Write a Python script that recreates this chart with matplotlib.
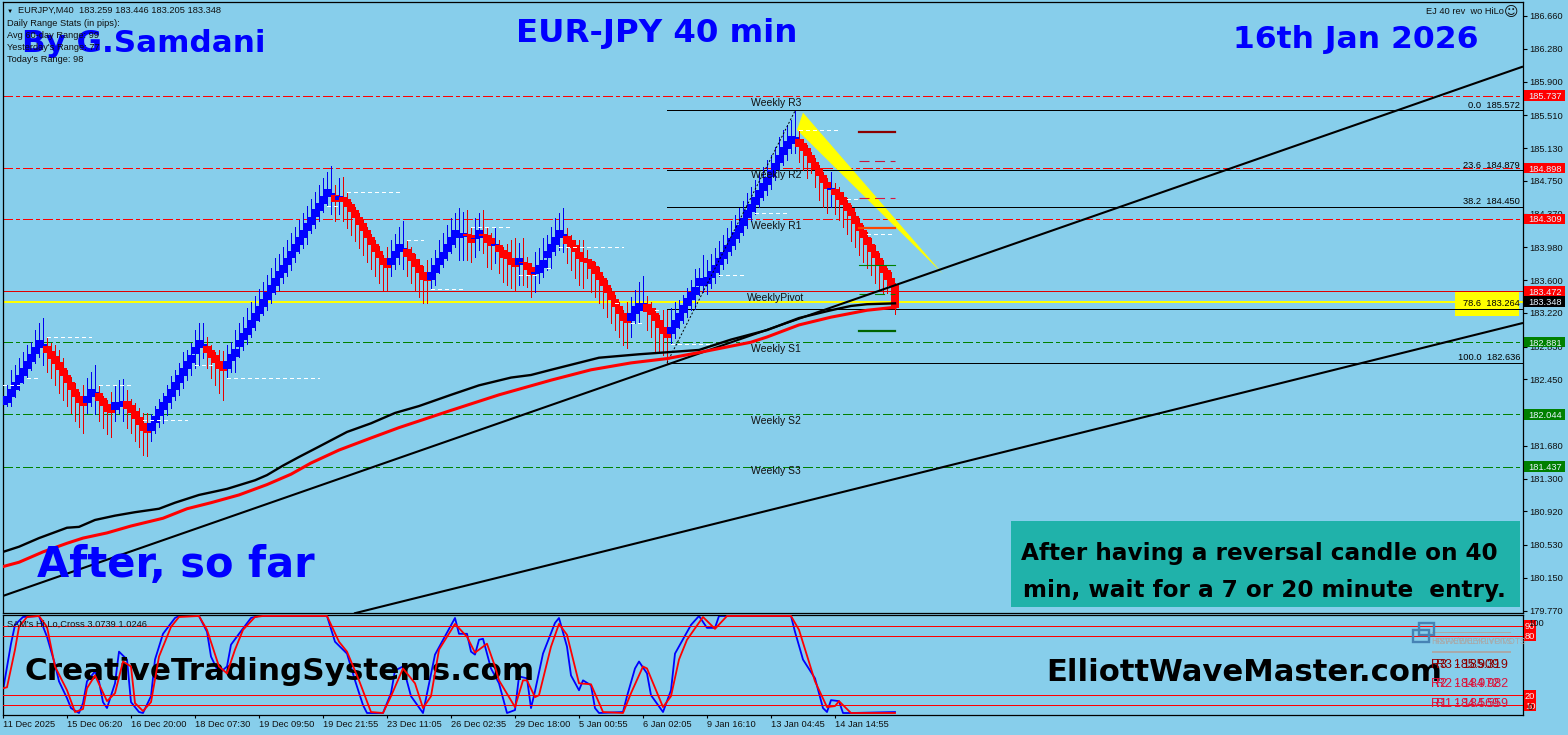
import matplotlib
matplotlib.use("Agg")
from matplotlib import pyplot as plt
from matplotlib.patches import Rectangle

plt.rcParams["font.family"] = ["Liberation Sans", "DejaVu Sans"]

# Heiken-Ashi style candles
body_top = [
    182.19, 182.26, 182.34, 182.42, 182.50, 182.58, 182.66, 182.74, 182.83, 182.91,
    182.86, 182.84, 182.78, 182.72, 182.65, 182.58, 182.50, 182.42, 182.34, 182.26,
    182.19, 182.26, 182.34, 182.30, 182.29, 182.23, 182.16, 182.09, 182.19, 182.19,
    182.20, 182.20, 182.15, 182.08, 182.01, 181.94, 181.86, 181.94, 182.03, 182.11,
    182.19, 182.26, 182.34, 182.42, 182.50, 182.58, 182.66, 182.73, 182.83, 182.91,
    182.86, 182.84, 182.79, 182.73, 182.66, 182.58, 182.66, 182.74, 182.80, 182.91,
    182.99, 183.05, 183.14, 183.22, 183.30, 183.38, 183.46, 183.54, 183.62, 183.71,
    183.77, 183.86, 183.94, 184.02, 184.10, 184.18, 184.26, 184.33, 184.42, 184.49,
    184.57, 184.65, 184.61, 184.59, 184.57, 184.56, 184.54, 184.48, 184.41, 184.33,
    184.26, 184.18, 184.10, 184.02, 183.94, 183.86, 183.77, 183.86, 183.94, 184.02,
    183.97, 183.96, 183.91, 183.84, 183.77, 183.69, 183.62, 183.69, 183.77, 183.86,
    183.93, 184.02, 184.10, 184.18, 184.15, 184.15, 184.13, 184.12, 184.09, 184.18,
    184.13, 184.12, 184.09, 184.02, 184.01, 183.95, 183.93, 183.86, 183.77, 183.86,
    183.81, 183.80, 183.75, 183.69, 183.77, 183.83, 183.94, 184.02, 184.10, 184.18,
    184.13, 184.11, 184.06, 184.01, 183.93, 183.86, 183.84, 183.82, 183.76, 183.69,
    183.62, 183.54, 183.46, 183.38, 183.30, 183.22, 183.14, 183.22, 183.30, 183.33,
    183.33, 183.32, 183.28, 183.22, 183.14, 183.06, 182.99, 183.06, 183.14, 183.22,
    183.31, 183.39, 183.46, 183.52, 183.62, 183.62, 183.64, 183.71, 183.77, 183.86,
    183.93, 184.01, 184.09, 184.16, 184.24, 184.32, 184.41, 184.48, 184.56, 184.64,
    184.72, 184.79, 184.88, 184.96, 185.05, 185.14, 185.21, 185.27, 185.26, 185.23,
    185.19, 185.13, 185.05, 184.97, 184.90, 184.82, 184.74, 184.67, 184.66, 184.62,
    184.56, 184.49, 184.43, 184.34, 184.26, 184.18, 184.10, 184.02, 183.94, 183.86,
    183.77, 183.72, 183.62, 183.54,
]
body_bot = [
    182.15, 182.17, 182.25, 182.33, 182.41, 182.49, 182.57, 182.65, 182.74, 182.82,
    182.81, 182.75, 182.69, 182.63, 182.56, 182.49, 182.41, 182.33, 182.25, 182.17,
    182.14, 182.17, 182.25, 182.27, 182.20, 182.14, 182.07, 182.06, 182.10, 182.13,
    182.19, 182.11, 182.06, 181.99, 181.92, 181.85, 181.83, 181.85, 181.94, 182.02,
    182.10, 182.17, 182.25, 182.33, 182.41, 182.49, 182.57, 182.64, 182.74, 182.82,
    182.81, 182.75, 182.70, 182.64, 182.57, 182.55, 182.57, 182.66, 182.71, 182.82,
    182.90, 182.96, 183.05, 183.13, 183.21, 183.29, 183.37, 183.45, 183.53, 183.62,
    183.68, 183.77, 183.85, 183.93, 184.01, 184.09, 184.17, 184.24, 184.33, 184.40,
    184.48, 184.56, 184.56, 184.50, 184.53, 184.50, 184.45, 184.39, 184.32, 184.24,
    184.17, 184.09, 184.01, 183.93, 183.85, 183.77, 183.74, 183.77, 183.85, 183.93,
    183.94, 183.87, 183.82, 183.75, 183.68, 183.60, 183.59, 183.60, 183.68, 183.77,
    183.84, 183.93, 184.01, 184.09, 184.09, 184.10, 184.11, 184.03, 184.07, 184.09,
    184.11, 184.03, 184.00, 184.00, 183.93, 183.86, 183.84, 183.77, 183.75, 183.77,
    183.80, 183.72, 183.66, 183.67, 183.68, 183.74, 183.85, 183.93, 184.01, 184.09,
    184.09, 184.02, 183.97, 183.92, 183.84, 183.81, 183.80, 183.73, 183.67, 183.60,
    183.53, 183.45, 183.37, 183.29, 183.21, 183.13, 183.10, 183.13, 183.21, 183.24,
    183.31, 183.23, 183.19, 183.13, 183.05, 182.97, 182.93, 182.97, 183.05, 183.13,
    183.22, 183.30, 183.37, 183.43, 183.53, 183.53, 183.55, 183.62, 183.68, 183.77,
    183.84, 183.92, 184.00, 184.07, 184.15, 184.23, 184.32, 184.39, 184.47, 184.55,
    184.63, 184.70, 184.79, 184.87, 184.96, 185.05, 185.12, 185.18, 185.21, 185.14,
    185.10, 185.04, 184.96, 184.88, 184.81, 184.73, 184.65, 184.64, 184.59, 184.53,
    184.47, 184.40, 184.34, 184.25, 184.17, 184.09, 184.01, 183.93, 183.85, 183.77,
    183.68, 183.60, 183.53, 183.28,
]
wick_high = [
    182.26, 182.38, 182.56, 182.62, 182.70, 182.77, 182.85, 182.88, 183.02, 183.10,
    183.16, 182.93, 182.87, 182.85, 182.79, 182.70, 182.56, 182.48, 182.41, 182.30,
    182.38, 182.47, 182.53, 182.62, 182.37, 182.26, 182.21, 182.30, 182.38, 182.44,
    182.45, 182.33, 182.22, 182.17, 182.12, 182.06, 182.06, 182.05, 182.14, 182.22,
    182.29, 182.38, 182.49, 182.56, 182.64, 182.77, 182.79, 182.87, 183.02, 183.10,
    183.10, 182.94, 182.85, 182.77, 182.79, 182.78, 182.85, 182.88, 183.02, 183.10,
    183.17, 183.28, 183.35, 183.42, 183.50, 183.58, 183.66, 183.74, 183.85, 183.90,
    183.98, 184.06, 184.15, 184.22, 184.30, 184.38, 184.46, 184.54, 184.62, 184.70,
    184.78, 184.85, 184.92, 184.70, 184.78, 184.79, 184.61, 184.50, 184.45, 184.38,
    184.30, 184.22, 184.13, 184.06, 184.00, 183.89, 183.98, 184.06, 184.13, 184.22,
    184.28, 184.05, 183.98, 183.90, 183.84, 183.76, 183.83, 183.86, 183.95, 184.06,
    184.15, 184.24, 184.32, 184.38, 184.44, 184.39, 184.41, 184.20, 184.32, 184.38,
    184.41, 184.20, 184.15, 184.22, 184.06, 183.98, 184.02, 184.06, 184.09, 184.03,
    184.09, 183.87, 183.80, 183.93, 183.97, 184.09, 184.12, 184.22, 184.32, 184.38,
    184.43, 184.20, 184.12, 184.06, 184.06, 184.06, 183.95, 183.84, 183.81, 183.75,
    183.65, 183.60, 183.51, 183.43, 183.35, 183.25, 183.35, 183.40, 183.49, 183.58,
    183.65, 183.42, 183.35, 183.28, 183.20, 183.25, 183.25, 183.28, 183.35, 183.37,
    183.43, 183.51, 183.60, 183.73, 183.74, 183.89, 183.83, 183.90, 183.97, 184.05,
    184.12, 184.20, 184.28, 184.35, 184.43, 184.52, 184.61, 184.68, 184.76, 184.84,
    184.91, 184.99, 185.05, 185.14, 185.26, 185.34, 185.40, 185.45, 185.56, 185.34,
    185.23, 185.17, 185.08, 185.01, 184.93, 184.85, 184.78, 184.85, 184.73, 184.68,
    184.62, 184.55, 184.47, 184.39, 184.32, 184.24, 184.16, 184.09, 184.01, 183.91,
    183.83, 183.74, 183.69, 183.57,
]
wick_low = [
    181.98, 182.14, 182.14, 182.25, 182.33, 182.41, 182.48, 182.56, 182.64, 182.71,
    182.62, 182.54, 182.47, 182.38, 182.29, 182.21, 182.14, 182.06, 181.97, 181.90,
    181.83, 182.06, 182.14, 182.05, 181.97, 181.89, 181.82, 181.78, 181.97, 182.06,
    181.97, 181.89, 181.83, 181.73, 181.66, 181.57, 181.56, 181.74, 181.83, 181.90,
    181.94, 182.04, 182.12, 182.21, 182.27, 182.35, 182.44, 182.50, 182.58, 182.62,
    182.70, 182.58, 182.47, 182.38, 182.29, 182.21, 182.47, 182.53, 182.53, 182.71,
    182.79, 182.86, 182.94, 183.02, 183.12, 183.20, 183.25, 183.33, 183.44, 183.49,
    183.57, 183.65, 183.72, 183.81, 183.91, 183.97, 184.02, 184.14, 184.20, 184.28,
    184.39, 184.47, 184.37, 184.28, 184.37, 184.28, 184.20, 184.12, 184.05, 183.97,
    183.89, 183.81, 183.73, 183.65, 183.57, 183.49, 183.47, 183.65, 183.73, 183.79,
    183.73, 183.65, 183.57, 183.49, 183.40, 183.33, 183.33, 183.50, 183.54, 183.68,
    183.75, 183.83, 183.91, 183.98, 183.83, 183.83, 183.83, 183.81, 183.87, 183.95,
    183.91, 183.75, 183.73, 183.80, 183.68, 183.58, 183.54, 183.51, 183.47, 183.54,
    183.54, 183.52, 183.40, 183.46, 183.57, 183.64, 183.72, 183.74, 183.89, 183.95,
    183.93, 183.80, 183.72, 183.62, 183.54, 183.51, 183.62, 183.46, 183.40, 183.33,
    183.28, 183.17, 183.10, 183.02, 182.94, 182.85, 182.81, 182.94, 183.10, 183.10,
    183.25, 183.02, 182.94, 182.77, 182.77, 182.73, 182.64, 182.87, 182.93, 183.04,
    183.10, 183.17, 183.25, 183.26, 183.43, 183.46, 183.44, 183.51, 183.57, 183.65,
    183.73, 183.80, 183.89, 183.96, 184.04, 184.12, 184.20, 184.28, 184.37, 184.45,
    184.53, 184.59, 184.65, 184.76, 184.88, 184.93, 184.99, 185.07, 185.07, 184.97,
    184.88, 184.78, 184.84, 184.68, 184.53, 184.45, 184.38, 184.45, 184.37, 184.30,
    184.22, 184.13, 184.05, 183.98, 183.89, 183.81, 183.74, 183.66, 183.57, 183.49,
    183.45, 183.45, 183.46, 183.21,
]
candle_runs = [
    ("B", 11), ("R", 10), ("B", 3), ("R", 4), ("B", 3), ("R", 6), ("B", 14), ("R", 5),
    ("B", 27), ("R", 1), ("B", 1), ("R", 12), ("B", 4), ("R", 6), ("B", 9), ("R", 2),
    ("B", 2), ("R", 3), ("B", 1), ("R", 5), ("B", 1), ("R", 3), ("B", 8), ("R", 16),
    ("B", 4), ("R", 6), ("B", 32), ("R", 8), ("B", 1), ("R", 16),
]

# moving averages: bar number, price
black_ma_x = [0, 4, 9, 16, 19, 23, 28, 33, 39, 43, 49, 56, 63, 66, 70, 74, 79, 86, 92, 98,
              104, 112, 119, 127, 132, 137, 149, 159, 174, 182, 191, 199, 207, 212, 216, 223]
black_ma_y = [180.45, 180.51, 180.61, 180.73, 180.74, 180.82, 180.87, 180.91, 180.95, 181.02,
              181.11, 181.18, 181.28, 181.34, 181.45, 181.55, 181.67, 181.84, 181.94, 182.06,
              182.14, 182.27, 182.38, 182.47, 182.50, 182.56, 182.70, 182.74, 182.79, 182.91,
              183.02, 183.16, 183.25, 183.30, 183.32, 183.33]
red_ma_x = [0, 4, 10, 16, 20, 26, 32, 40, 46, 52, 59, 66, 72, 77, 84, 92, 99, 112, 124, 137,
            147, 157, 166, 174, 187, 191, 199, 207, 216, 222, 223]
red_ma_y = [180.28, 180.33, 180.45, 180.55, 180.61, 180.67, 180.75, 180.84, 180.95, 181.02,
            181.11, 181.23, 181.35, 181.48, 181.63, 181.77, 181.89, 182.09, 182.27, 182.44,
            182.56, 182.64, 182.69, 182.76, 182.88, 182.94, 183.08, 183.17, 183.25, 183.28, 183.28]

# long trend lines
upper_trend_x = [0, 379.75]
upper_trend_y = [179.94, 186.07]
lower_trend_x = [88, 379.75]
lower_trend_y = [179.74, 183.10]
dotted_trend_x = [166, 198]
dotted_trend_y = [182.64, 185.56]

red_levels = [185.737, 184.898, 184.309]
green_levels = [182.881, 182.044, 181.437]
pivot_level = 183.472
bid_level = 183.348

fib_levels = [185.572, 184.879, 184.450, 183.264, 182.636]
fib_labels = ["0.0", "23.6", "38.2", "78.6", "100.0"]
fib_text_y = [105, 165, 202, 303.5, 358]

weekly_names = ["Weekly R3", "Weekly R2", "Weekly R1", "WeeklyPivot", "Weekly S1", "Weekly S2", "Weekly S3"]
weekly_text_y = [103, 175, 226, 298, 349, 421, 471]

price_ticks = [186.66, 186.28, 185.90, 185.51, 185.13, 184.75, 184.37, 183.98, 183.60, 183.22,
               182.83, 182.45, 182.07, 181.68, 181.30, 180.92, 180.53, 180.15, 179.77]

# white dashed high/low markers
dash_start = [11, 0, 6, 24, 35, 48, 56, 86, 81, 101, 107, 117, 129, 136, 139, 153, 157, 163, 167, 179, 188, 199, 211, 216]
dash_end = [22, 4, 9, 32, 46, 53, 79, 99, 84, 105, 115, 127, 134, 137, 155, 154, 160, 164, 177, 186, 196, 209, 214, 223]
dash_price = [182.94, 182.38, 182.46, 182.38, 181.98, 182.62, 182.46, 184.62, 184.46, 184.06, 183.50, 184.22,
              183.66, 183.74, 183.98, 183.33, 183.10, 183.25, 182.86, 183.66, 184.38, 185.34, 184.54, 184.13]

wedge_x = [200, 235, 198.5]
wedge_y = [185.54, 183.67, 185.34]

# short daily pivot marks near the last candle
mark_price = [185.32, 184.98, 184.55, 184.20, 183.77, 183.44, 183.01]
mark_color = ["#8B0000", "#C8143C", "#DC143C", "#FF4500", "#008000", "#008000", "#006400"]
mark_width = [1.6, 0.8, 0.8, 1.6, 0.8, 0.8, 1.6]
mark_dashed = [False, True, True, False, False, True, False]

# oscillator
osc_blue_x = [0, 2, 3, 5, 9, 11, 13, 14, 16, 17, 19, 20, 21, 23, 24, 25, 26, 28, 29, 31, 32, 34, 35, 37, 38,
              40, 43, 44, 49, 51, 52, 54, 56, 57, 59, 62, 64, 81, 83, 86, 88, 90, 91, 95, 97, 98, 100, 102,
              105, 108, 113, 114, 116, 117, 118, 119, 120, 122, 124, 126, 128, 129, 131, 132, 133, 135, 138,
              139, 141, 142, 144, 145, 147, 148, 149, 155, 156, 158, 159, 161, 162, 165, 167, 168, 172, 174,
              176, 178, 179, 197, 198, 200, 203, 205, 206, 207, 209, 210, 212, 223]
osc_blue_y = [25, 72, 91, 99, 100, 79, 51, 34, 17, 7, 2, 12, 34, 44, 34, 13, 7, 32, 64, 56, 13, 3, 2, 19, 56,
              82, 98, 100, 100, 84, 59, 42, 49, 71, 82, 98, 100, 100, 74, 62, 35, 10, 2, 2, 22, 45, 49, 19,
              2, 61, 98, 82, 82, 64, 61, 76, 77, 47, 32, 2, 5, 39, 37, 7, 24, 62, 93,
              98, 69, 40, 25, 35, 30, 7, 2, 3, 19, 47, 54, 42, 20, 3, 25, 62, 91, 100,
              88, 88, 100, 100, 84, 56, 37, 7, 3, 15, 14, 2, 2, 3]
osc_red_x = [0, 1, 3, 4, 6, 9, 11, 13, 16, 18, 20, 21, 23, 26, 28, 30, 32, 33, 35, 37, 39, 42, 44, 49, 51, 54,
             56, 58, 60, 63, 65, 81, 84, 86, 89, 92, 95, 97, 100, 103, 105, 107, 109, 113, 116, 118, 121, 123,
             124, 128, 130, 131, 133, 134, 137, 139, 141, 144, 147, 150, 155, 157, 160, 161, 165, 167, 169,
             171, 175, 178, 181, 197, 199, 202, 203, 206, 208, 209, 212, 223]
osc_red_y = [27, 28, 66, 89, 99, 100, 89, 49, 25, 3, 6, 27, 40, 14, 22, 54, 49, 12, 4, 13, 59, 89, 99, 100, 86, 49,
             42, 66, 86, 99, 100, 100, 74, 64, 35, 3, 2, 19, 47, 32, 7, 19, 66, 92, 79, 63, 72, 49,
             35, 8, 35, 35, 18, 20, 69, 92, 81, 32, 31, 3, 2, 22, 49, 47, 8, 19, 56,
             76, 99, 87, 100, 100, 86, 47, 34, 8, 9, 14, 2, 2]
osc_levels = [90, 80, 20, 10]
date_tick_x = [0, 16, 32, 48, 64, 80, 96, 112, 128, 144, 160, 176, 192, 208]
date_labels = ["11 Dec 2025", "15 Dec 06:20", "16 Dec 20:00", "18 Dec 07:30", "19 Dec 09:50", "19 Dec 21:55",
               "23 Dec 11:05", "26 Dec 02:35", "29 Dec 18:00", "5 Jan 00:55", "6 Jan 02:05", "9 Jan 16:10",
               "13 Jan 04:45", "14 Jan 14:55"]

W, H = 1568, 735
BG = "#87CEEB"
SMALL = 6.7
PX = 0.72  # one pixel line


def txt(x, y, s, **kw):
    kw.setdefault("fontsize", SMALL)
    kw.setdefault("color", "#101010")
    kw.setdefault("zorder", 9)
    return fig.text(x / W, 1 - y / H, s, **kw)


def box(x0, y0, x1, y1, **kw):
    fig.add_artist(Rectangle((x0 / W, 1 - y1 / H), (x1 - x0) / W, (y1 - y0) / H, transform=fig.transFigure, **kw))


fig = plt.figure(figsize=(W / 100, H / 100), dpi=100, facecolor=BG)
ax = fig.add_axes([2.5 / W, 1 - 613 / H, 1520 / W, 611 / H], facecolor=BG)
osc = fig.add_axes([2.5 / W, 1 - 714.5 / H, 1520 / W, 99.5 / H], facecolor=BG)

for a in (ax, osc):
    a.set_xlim(-0.125, 379.875)
    for s in a.spines.values():
        s.set_linewidth(0.9)
ax.set_ylim(179.742, 186.822)
osc.set_ylim(0.5, 101)

# yellow box behind the 78.6 fib label, sits under all the lines
ax.add_patch(Rectangle((1455 / W, 1 - 316 / H), 64 / W, 24 / H, transform=fig.transFigure, color="#FFFF00", lw=0, zorder=0.5))

# horizontal levels, under the candles
dash_dot = (0, (10, 3, 3, 3))
for lv in red_levels:
    ax.axhline(lv, color="#FF0000", lw=PX, ls=dash_dot, antialiased=False, zorder=1)
for lv in green_levels:
    ax.axhline(lv, color="#008000", lw=PX, ls=dash_dot, antialiased=False, zorder=1)
ax.axhline(pivot_level, color="#E00000", lw=PX, antialiased=False, zorder=1)
ax.axhline(bid_level, color="#FFFF00", lw=2 * PX, antialiased=False, zorder=1)
ax.fill(wedge_x, wedge_y, color="#FFFF00", lw=0, zorder=1.5)

# fib lines start at the swing low
for lv in fib_levels:
    ax.hlines(lv, 166, 379.875, color="black", lw=PX, antialiased=False, zorder=1.6)

# candles
candle_colors = []
for name, count in candle_runs:
    candle_colors += ["#0000FF" if name == "B" else "#FF0000"] * count
xs = list(range(len(body_top)))
wick_colors = ["#0000F0" if c == "#0000FF" else "#E60000" for c in candle_colors]
ax.vlines(xs, wick_low, wick_high, colors=wick_colors, lw=PX, antialiased=False, zorder=2)
heights = [t - b for t, b in zip(body_top, body_bot)]
ax.bar(xs, heights, width=2.0, bottom=body_bot, color=candle_colors, lw=0, antialiased=False, zorder=3)

for s, e, p in zip(dash_start, dash_end, dash_price):
    ax.plot([s, e], [p, p], color="white", lw=PX, ls=(0, (4, 3)), antialiased=False, zorder=3.5)

for p, c, w, d in zip(mark_price, mark_color, mark_width, mark_dashed):
    ax.plot([214, 223], [p, p], color=c, lw=w, ls=(0, (9, 5)) if d else "-", zorder=3.5)

ax.plot(dotted_trend_x, dotted_trend_y, color="black", lw=0.7, ls=(0, (2, 2)), zorder=4)
ax.plot(upper_trend_x, upper_trend_y, color="black", lw=1.5, zorder=4)
ax.plot(lower_trend_x, lower_trend_y, color="black", lw=1.5, zorder=4)
ax.plot(black_ma_x, black_ma_y, color="black", lw=1.7, zorder=4)
ax.plot(red_ma_x, red_ma_y, color="#FF0000", lw=2.2, zorder=4.5)

# price axis
ax.set_xticks([])
ax.yaxis.tick_right()
ax.set_yticks(price_ticks)
ax.set_yticklabels(["%.3f" % p for p in price_ticks], fontsize=SMALL, color="#101010")
ax.tick_params(axis="y", length=3, width=0.8, pad=2)

label_tf = ax.get_yaxis_transform()
for levels, colour in [(red_levels + [pivot_level], "#FF0000"), ([bid_level], "black"), (green_levels, "#008000")]:
    for lv in levels:
        ax.add_patch(Rectangle((1.0012, lv - 0.062), 0.027, 0.124, transform=label_tf, color=colour, lw=0, clip_on=False, zorder=6))
        ax.text(1.0147, lv, "%.3f" % lv, transform=label_tf, color="#E8F4FF", fontsize=SMALL, ha="center", va="center_baseline", clip_on=False, zorder=7)

# oscillator panel, the site names sit between the blue and the red lines
FS = dict(fontfamily="DejaVu Sans", fontweight="bold", va="baseline", color="black", transform=fig.transFigure, clip_on=False, zorder=3)
osc.plot(osc_blue_x, osc_blue_y, color="#0000FF", lw=1.3, zorder=2)
osc.text(25 / W, 1 - 680.5 / H, "CreativeTradingSystems.com", fontsize=22.3, **FS)
osc.text(1046 / W, 1 - 681 / H, "ElliottWaveMaster.com", fontsize=22.1, **FS)
osc.plot(osc_red_x, osc_red_y, color="#FF0000", lw=1.3, zorder=5)
for lv in osc_levels:
    osc.axhline(lv, color="#FF0000", lw=PX, antialiased=False, zorder=4)
osc.set_yticks([])
osc.set_xticks(date_tick_x)
osc.set_xticklabels(date_labels, fontsize=SMALL, color="#101010", ha="left")
osc.tick_params(axis="x", length=2, width=0.8, pad=2)

osc_tf = osc.get_yaxis_transform()
for lv in osc_levels:
    osc.add_patch(Rectangle((1.0012, lv - 5.5), 0.0075, 11, transform=osc_tf, color="#FF0000", lw=0, clip_on=False, zorder=6))
    osc.text(1.005, lv, str(lv), transform=osc_tf, color="#F0F0F0", fontsize=SMALL, ha="center", va="center_baseline", clip_on=False, zorder=7)
txt(1528, 623, "100", va="center", ha="left")
txt(1528, 708, "0", va="center", ha="left")

# small texts on the main chart
txt(18, 10.5, "EURJPY,M40  183.259 183.446 183.205 183.348", va="center")
txt(9.5, 11, "▼", va="center", ha="center", fontsize=4.5, color="black")
for y, s in zip([24, 36, 48, 60], ["Daily Range Stats (in pips):", "Avg 60-day Range: 99", "Yesterday's Range: 77", "Today's Range: 98"]):
    txt(7, y, s, va="center")
txt(1504, 11.5, "EJ 40 rev  wo HiLo", va="center", ha="right")
txt(1511, 12, "☺", va="center", ha="center", fontsize=10, family=["DejaVu Sans"])
txt(7, 624, "SAM's Hi,Lo,Cross 3.0739 1.0246", va="center")

for name, y in zip(weekly_names, weekly_text_y):
    txt(776, y, name, ha="center", va="center", fontsize=7.5)

for lv, lab, y in zip(fib_levels, fib_labels, fib_text_y):
    txt(1520, y, "%s  %.3f" % (lab, lv), ha="right", va="center", color="black")

# big titles
BIG = dict(fontfamily="DejaVu Sans", fontweight="bold", va="baseline", zorder=8)
txt(22, 52, "By G.Samdani", color="#0000FF", fontsize=22.3, **BIG)
txt(516, 42, "EUR-JPY 40 min", color="#0000FF", fontsize=23.3, **BIG)
txt(1233, 48, "16th Jan 2026", color="#0000FF", fontsize=22.6, **BIG)
txt(37, 577, "After, so far", color="#0000FF", fontsize=30, **BIG)

box(1011, 521, 1519.5, 607, color="#20B2AA", lw=0, zorder=6)
txt(1021, 560, "After having a reversal candle on 40", color="black", fontsize=16.7, **BIG)
txt(1023, 597, "min, wait for a 7 or 20 minute  entry.", color="black", fontsize=16.7, **BIG)

# odd overlapping stuff at the bottom right of the oscillator
box(1419, 623, 1434, 635, fill=False, ec="#4682B4", lw=1.7, zorder=8)
box(1413, 630, 1429, 642, fill=False, ec="#4682B4", lw=1.7, zorder=8)
box(1432, 631.5, 1511, 632.5, color="#A9A9A9", lw=0, zorder=7)
box(1432, 651, 1511, 653, color="#A9A9A9", lw=0, zorder=7)
txt(1431, 641.5, "HISFX/WEEKLYPIVOTS", color="#A9A9A9", va="center", fontsize=6.2)
txt(1434, 641.5, "FXWEEKLYPIVOTS", color="#A9A9A9", va="center", fontsize=6.2)
for y, a, b, c in [(664.5, "R3  185.909", "R3 - 185.319", "#8B0000"),
                   (684, "R2  184.972", "R2 - 184.982", "#DC143C"),
                   (704, "R1  184.569", "R1 - 184.559", "#DC143C")]:
    txt(1431, y, a, color=c, va="center", fontsize=9)
    txt(1436, y, b, color=c, va="center", fontsize=9)

fig.savefig("out.png", dpi=100, facecolor=BG)
